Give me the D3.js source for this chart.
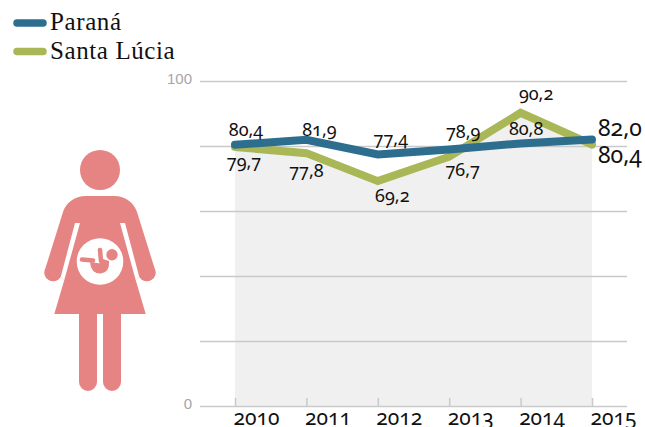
<!DOCTYPE html>
<meta charset="utf-8">
<style>
body { margin: 0; background: #fff; }
svg { display: block; font-family: "Noto Sans", sans-serif; font-feature-settings: "onum"; }
.grid line { stroke: #c9c9c9; stroke-width: 1.5px; }
.grid path, .xaxis path { display: none; }
.grid text { fill: #a6a6a6; font-size: 15px; }
.xaxis line { stroke: #c9c9c9; stroke-width: 1.5px; }
.xaxis text { fill: #111; font-size: 21px; font-family: "Noto Sans", sans-serif; }
.lbl { fill: #111; font-size: 18px; }
.big { font-size: 23px; }
.leg { fill: #111; font-family: "Liberation Serif", serif; font-size: 25px; letter-spacing: 0.6px; }
.icon { fill: #e58483; }
</style>
<svg width="645" height="427"></svg>
<script src="https://d3js.org/d3.v7.min.js"></script>
<script>

var years = [2010, 2011, 2012, 2013, 2014, 2015];
var parana = [80.4, 81.9, 77.4, 78.9, 80.8, 82.0];
var santaLucia = [79.7, 77.8, 69.2, 76.7, 90.2, 80.4];
var seriesNames = ["Paraná", "Santa Lúcia"];
var yTicks = [0, 20, 40, 60, 80, 100];

var teal = "#2d6e8e", olive = "#a9b757";

var svg = d3.select("svg");

var x = d3.scalePoint().domain(years).range([235, 592]);
var y = d3.scaleLinear().domain([0, 100]).range([406, 81]);

// the woman icon, drawn by hand
var icon = svg.append("g").attr("class", "icon");
icon.append("circle").attr("cx", 100).attr("cy", 170).attr("r", 20);
icon.append("path").attr("d",
  "M86,196 L114,196 C126,196 134,203 137,212 L154.5,268 A8.6,8.6 0 0 1 139.3,277" +
  " L135.7,280 L145.7,314 L121,314 L121,382 A9,9 0 0 1 103,382 L103,314 L97,314 L97,382 A9,9 0 0 1 79,382 L79,314 L54.3,314" +
  " L64.3,280 L60.7,277 A8.6,8.6 0 0 1 45.5,268 L63,212 C66,203 74,196 86,196 Z");
// slits between arms and dress
icon.append("path").attr("fill", "#fff").attr("d",
  "M75,223 L80,223 L64.3,280 L60.7,277 Z M125,223 L120,223 L135.7,280 L139.3,277 Z");
icon.append("circle").attr("cx", 100).attr("cy", 261.5).attr("r", 23.3).attr("fill", "#fff");
// the baby
icon.append("circle").attr("cx", 112).attr("cy", 254.7).attr("r", 5.7);
icon.append("path").attr("fill", "none").attr("stroke", "#e58483")
  .attr("stroke-linecap", "round").attr("stroke-width", 4.5)
  .attr("d", "M82,259.5 L93,260.5 M100,250 L101,261");
icon.append("path")
  .attr("d", "M90,262 Q91,274 101,273.5 Q110,272 109,261 L103,259 Q103,264 97,263 Z");

// grey area under Santa Lúcia
var area = d3.area()
    .x(function(d, i) { return x(years[i]); })
    .y0(y(0))
    .y1(function(d) { return y(d); });
svg.append("path").datum(santaLucia).attr("d", area).attr("fill", "#f0f0f0");

// gridlines and y labels
var yAxis = d3.axisLeft(y).tickValues(yTicks).tickSize(0)
    .tickFormat(function(d) { return d == 0 || d == 100 ? d : ""; });
var grid = svg.append("g").attr("class", "grid").attr("transform", "translate(200,0)").call(yAxis);
grid.selectAll("line").attr("x2", 427);
grid.selectAll("text").attr("x", -8).attr("y", -2.5);

// x axis, labels sit a bit right of the ticks
var xAxis = d3.axisBottom(x).tickSize(-8).tickPadding(0);
var xg = svg.append("g").attr("class", "xaxis").attr("transform", "translate(0,406)").call(xAxis);
xg.selectAll("text").attr("x", 21).attr("y", 19).attr("dy", 0);

var line = d3.line()
    .x(function(d, i) { return x(years[i]); })
    .y(function(d) { return y(d); });
svg.append("path").datum(santaLucia).attr("d", line).attr("fill", "none")
    .attr("stroke", olive).attr("stroke-width", 8).attr("stroke-linecap", "round");
svg.append("path").datum(parana).attr("d", line).attr("fill", "none")
    .attr("stroke", teal).attr("stroke-width", 8).attr("stroke-linecap", "round");

// hand placed label nudges, relative to each point
var paranaDx = [11, 13, 13, 14, 5.5];
var paranaDy = [-8.5, -4, -9.5, -11.5, -8];
var santaDx = [9, 0, 14.5, 13.5, 15.5];
var santaDy = [21, 23.5, 21, 19, -13];

function fmt(v) { return v.toFixed(1).replace(".", ","); }

svg.selectAll(".lblP").data(parana.slice(0, 5)).enter().append("text")
    .attr("class", "lbl").attr("text-anchor", "middle")
    .attr("x", function(d, i) { return x(years[i]) + paranaDx[i]; })
    .attr("y", function(d, i) { return y(d) + paranaDy[i]; })
    .text(fmt);
svg.selectAll(".lblS").data(santaLucia.slice(0, 5)).enter().append("text")
    .attr("class", "lbl").attr("text-anchor", "middle")
    .attr("x", function(d, i) { return x(years[i]) + santaDx[i]; })
    .attr("y", function(d, i) { return y(d) + santaDy[i]; })
    .text(fmt);

svg.append("text").attr("class", "lbl big").attr("x", x(2015) + 6).attr("y", y(parana[5]) - 4).text(fmt(parana[5]));
svg.append("text").attr("class", "lbl big").attr("x", x(2015) + 6).attr("y", y(santaLucia[5]) + 18.5).text(fmt(santaLucia[5]));

// legend
var leg = svg.selectAll(".legend").data(seriesNames).enter().append("g")
    .attr("transform", function(d, i) { return "translate(0," + (23 + i * 28.5) + ")"; });
leg.append("line").attr("x1", 17).attr("x2", 43)
    .attr("stroke", function(d, i) { return i ? olive : teal; })
    .attr("stroke-width", 7.5).attr("stroke-linecap", "round");
leg.append("text").attr("class", "leg").attr("x", 50).attr("y", 7).text(function(d) { return d; });

</script>
